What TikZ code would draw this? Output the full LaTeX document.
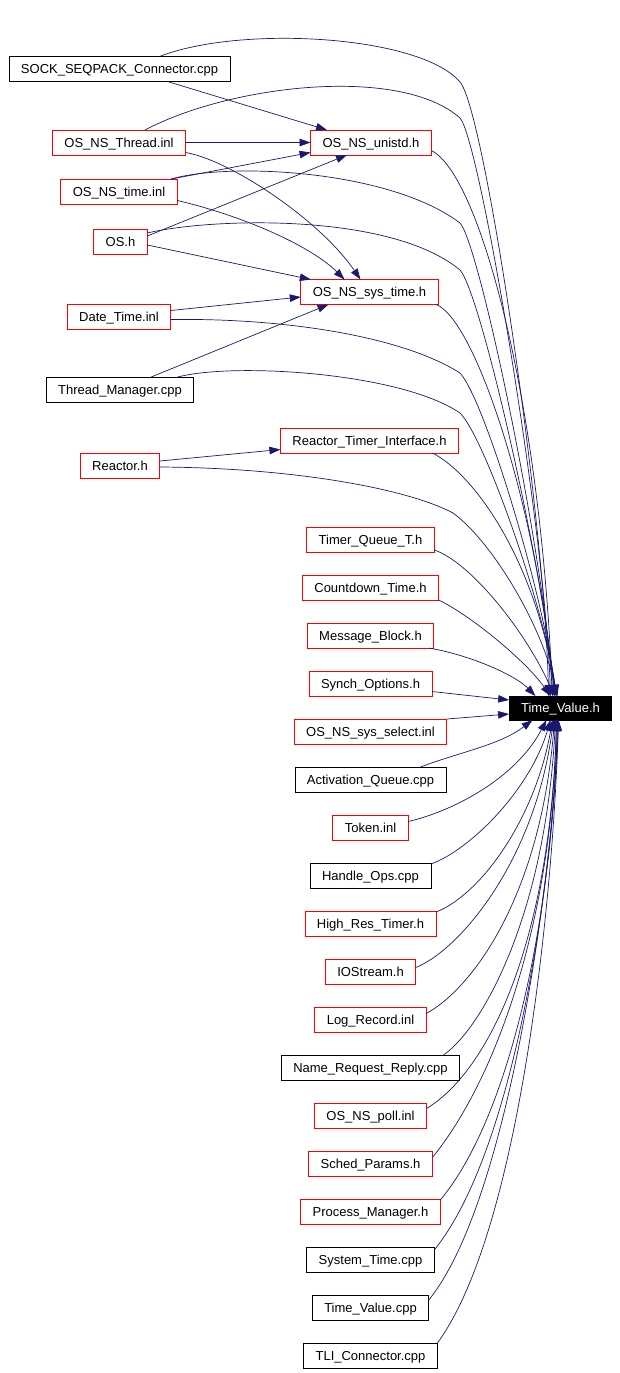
\documentclass[tikz,border=0pt]{standalone}
\usepackage{fontspec}
\setmainfont{Liberation Sans}
\usetikzlibrary{positioning,arrows.meta}
\definecolor{navy}{HTML}{191970}
\tikzset{%
  hbox/.style  = { draw = #1, line width = 0.8pt, fill = white, text = black, align = center,
                   font = \fontsize{13}{15}\selectfont, inner xsep = 12pt, inner ysep = 0pt, outer sep = 0pt,
                   text height = 10pt, text depth = 1pt, minimum height = 25pt },
  focus/.style = { hbox = black, fill = black, text = white, minimum height = 24pt },
  arrow/.style = { -{Triangle[length = 11pt, width = 7.5pt]}, line width = 0.7pt, draw = #1 }
}

\begin{document}
\begin{tikzpicture}[x = 1pt, y = -1pt]
\useasboundingbox (0,0) rectangle (619,1373);

% left column
\node(sock)    [hbox = black] at (119.5,69)  {SOCK\_SEQPACK\_Connector.cpp};
\node(thr)     [hbox = red]   at (119,142.5) {OS\_NS\_Thread.inl};
\node(tinl)    [hbox = red]   at (119,191.5) {OS\_NS\_time.inl};
\node(osh)     [hbox = red]   at (120.5,242) {OS.h};
\node(dtime)   [hbox = red]   at (119,316.5) {Date\_Time.inl};
\node(tmgr)    [hbox = black] at (120,390)   {Thread\_Manager.cpp};
\node(reactor) [hbox = red]   at (120,466)   {Reactor.h};

% middle column
\node(unistd)  [hbox = red]   at (371,142.5)   {OS\_NS\_unistd.h};
\node(systime) [hbox = red]   at (369.5,292)   {OS\_NS\_sys\_time.h};
\node(rti)     [hbox = red]   at (369.5,440.5) {Reactor\_Timer\_Interface.h};
\node(tqt)     [hbox = red]   at (370.5,539.5) {Timer\_Queue\_T.h};
\node(cdt)     [hbox = red,   below = 23pt of tqt]   {Countdown\_Time.h};
\node(mblk)    [hbox = red,   below = 23pt of cdt]   {Message\_Block.h};
\node(synch)   [hbox = red,   below = 23pt of mblk]  {Synch\_Options.h};
\node(ssel)    [hbox = red,   below = 23pt of synch] {OS\_NS\_sys\_select.inl};
\node(actq)    [hbox = black, below = 23pt of ssel]  {Activation\_Queue.cpp};
\node(tok)     [hbox = red,   below = 23pt of actq]  {Token.inl};
\node(hops)    [hbox = black, below = 23pt of tok]   {Handle\_Ops.cpp};
\node(hrt)     [hbox = red,   below = 23pt of hops]  {High\_Res\_Timer.h};
\node(ios)     [hbox = red,   below = 23pt of hrt]   {IOStream.h};
\node(lrec)    [hbox = red,   below = 23pt of ios]   {Log\_Record.inl};
\node(nrr)     [hbox = black, below = 23pt of lrec]  {Name\_Request\_Reply.cpp};
\node(poll)    [hbox = red,   below = 23pt of nrr]   {OS\_NS\_poll.inl};
\node(sprm)    [hbox = red,   below = 23pt of poll]  {Sched\_Params.h};
\node(pmgr)    [hbox = red,   below = 23pt of sprm]  {Process\_Manager.h};
\node(syst)    [hbox = black, below = 23pt of pmgr]  {System\_Time.cpp};
\node(tvcpp)   [hbox = black, below = 23pt of syst]  {Time\_Value.cpp};
\node(tli)     [hbox = black, below = 23pt of tvcpp] {TLI\_Connector.cpp};

% right column
\node(tvh)     [focus] at (560.5,708) {Time\_Value.h};

% into OS_NS_unistd.h
\draw[arrow = navy] ([xshift = 48]sock.south) -- ([xshift = -44]unistd.north);
\draw[arrow = navy] (thr) -- (unistd);
\draw[arrow = navy] ([xshift = -6]tinl.north east) -- ([yshift = -10]unistd.west);
\draw[arrow = navy] ([yshift = 6]osh.east) -- ([xshift = -24]unistd.south);

% into OS_NS_sys_time.h
\draw[arrow = navy] ([yshift = -10]thr.east) .. controls (230,160) and (320,220) .. ([xshift = -9]systime.north);
\draw[arrow = navy] ([yshift = -9]tinl.east) .. controls (240,215) and (310,245) .. ([xshift = -25]systime.north);
\draw[arrow = navy] ([yshift = -3]osh.east) -- ([xshift = 10]systime.north west);
\draw[arrow = navy] ([yshift = 6]dtime.east) -- ([yshift = -5]systime.west);
\draw[arrow = navy] ([xshift = 30]tmgr.north) -- ([xshift = -41]systime.south);

% into Reactor_Timer_Interface.h
\draw[arrow = navy] ([yshift = 5]reactor.east) -- ([yshift = -9]rti.west);

% into Time_Value.h, from above
\draw[arrow = navy] ([xshift = 40]sock.north) .. controls (240,25) and (420,35) .. (460,82)
                    .. controls (485,111) and (545,520) .. ([xshift = -12]tvh.north);
\draw[arrow = navy] ([xshift = 26]thr.north) .. controls (230,85) and (400,65) .. (460,118)
                    .. controls (480,140) and (545,530) .. ([xshift = -10]tvh.north);
\draw[arrow = navy] ([yshift = -8]unistd.east) .. controls (480,175) and (540,400) .. ([xshift = -8]tvh.north);
\draw[arrow = navy] ([xshift = -6]tinl.north east) .. controls (230,162) and (390,170) .. (460,223)
                    .. controls (480,245) and (545,560) .. ([xshift = -8]tvh.north);
\draw[arrow = navy] ([yshift = 9]osh.east) .. controls (210,218) and (390,212) .. (460,270)
                    .. controls (482,295) and (545,580) .. ([xshift = -6]tvh.north);
\draw[arrow = navy] ([xshift = -2]systime.south east) .. controls (475,320) and (535,500) .. ([xshift = -6]tvh.north);
\draw[arrow = navy] ([yshift = -3]dtime.east) .. controls (280,318) and (400,335) .. (460,373)
                    .. controls (485,400) and (545,600) .. ([xshift = -5]tvh.north);
\draw[arrow = navy] ([xshift = 56]tmgr.north) .. controls (230,362) and (400,372) .. (460,413)
                    .. controls (485,438) and (545,610) .. ([xshift = -4]tvh.north);
\draw[arrow = navy] ([xshift = 63]rti.south) .. controls (475,475) and (535,560) .. ([xshift = -4]tvh.north);
\draw[arrow = navy] ([yshift = -1]reactor.east) .. controls (300,468) and (410,490) .. (453,513)
                    .. controls (490,540) and (540,620) .. ([xshift = -3]tvh.north);
\draw[arrow = navy] ([yshift = 2]tqt.south east) .. controls (470,562) and (525,630) .. ([xshift = -6]tvh.north);
\draw[arrow = navy] (cdt.south east) .. controls (470,615) and (525,660) .. ([xshift = -10]tvh.north);
\draw[arrow = navy] ([xshift = -5]mblk.south east) .. controls (470,655) and (515,675) .. ([xshift = -25]tvh.north);
\draw[arrow = navy] ([yshift = -8]synch.east) -- ([yshift = 8]tvh.west);

% into Time_Value.h, from below
\draw[arrow = navy] (ssel.north east) -- ([yshift = -6]tvh.west);
\draw[arrow = navy] ([xshift = 50]actq.north) .. controls (460,752) and (500,745) .. ([xshift = -28]tvh.south);
\draw[arrow = navy] ([yshift = 6]tok.east) .. controls (450,812) and (515,780) .. ([xshift = -14]tvh.south);
\draw[arrow = navy] ([yshift = -1]hops.north east) .. controls (470,850) and (530,790) .. ([xshift = -10]tvh.south);
\draw[arrow = navy] ([yshift = -1]hrt.north east) .. controls (480,895) and (535,820) .. ([xshift = -8]tvh.south);
\draw[arrow = navy] ([yshift = 4]ios.east) .. controls (460,950) and (535,860) .. ([xshift = -7]tvh.south);
\draw[arrow = navy] ([yshift = 6]lrec.east) .. controls (470,990) and (540,900) .. ([xshift = -6]tvh.south);
\draw[arrow = navy] ([xshift = 73]nrr.north) .. controls (480,1030) and (545,920) .. ([xshift = -5]tvh.south);
\draw[arrow = navy] ([yshift = 7]poll.east) .. controls (490,1070) and (550,940) .. ([xshift = -4]tvh.south);
\draw[arrow = navy] ([yshift = 6]sprm.east) .. controls (498,1077) and (552,917) .. ([xshift = -4]tvh.south);
\draw[arrow = navy] ([yshift = -1]pmgr.north east) .. controls (515,1110) and (553,900) .. ([xshift = -3]tvh.south);
\draw[arrow = navy] ([yshift = -3]syst.north east) .. controls (515,1150) and (553,880) .. ([xshift = -3]tvh.south);
\draw[arrow = navy] ([yshift = -5]tvcpp.north east) .. controls (510,1200) and (553,870) .. ([xshift = -2]tvh.south);
\draw[arrow = navy] (tli.north east) .. controls (520,1230) and (553,900) .. ([xshift = -2]tvh.south);
\end{tikzpicture}
\end{document}
